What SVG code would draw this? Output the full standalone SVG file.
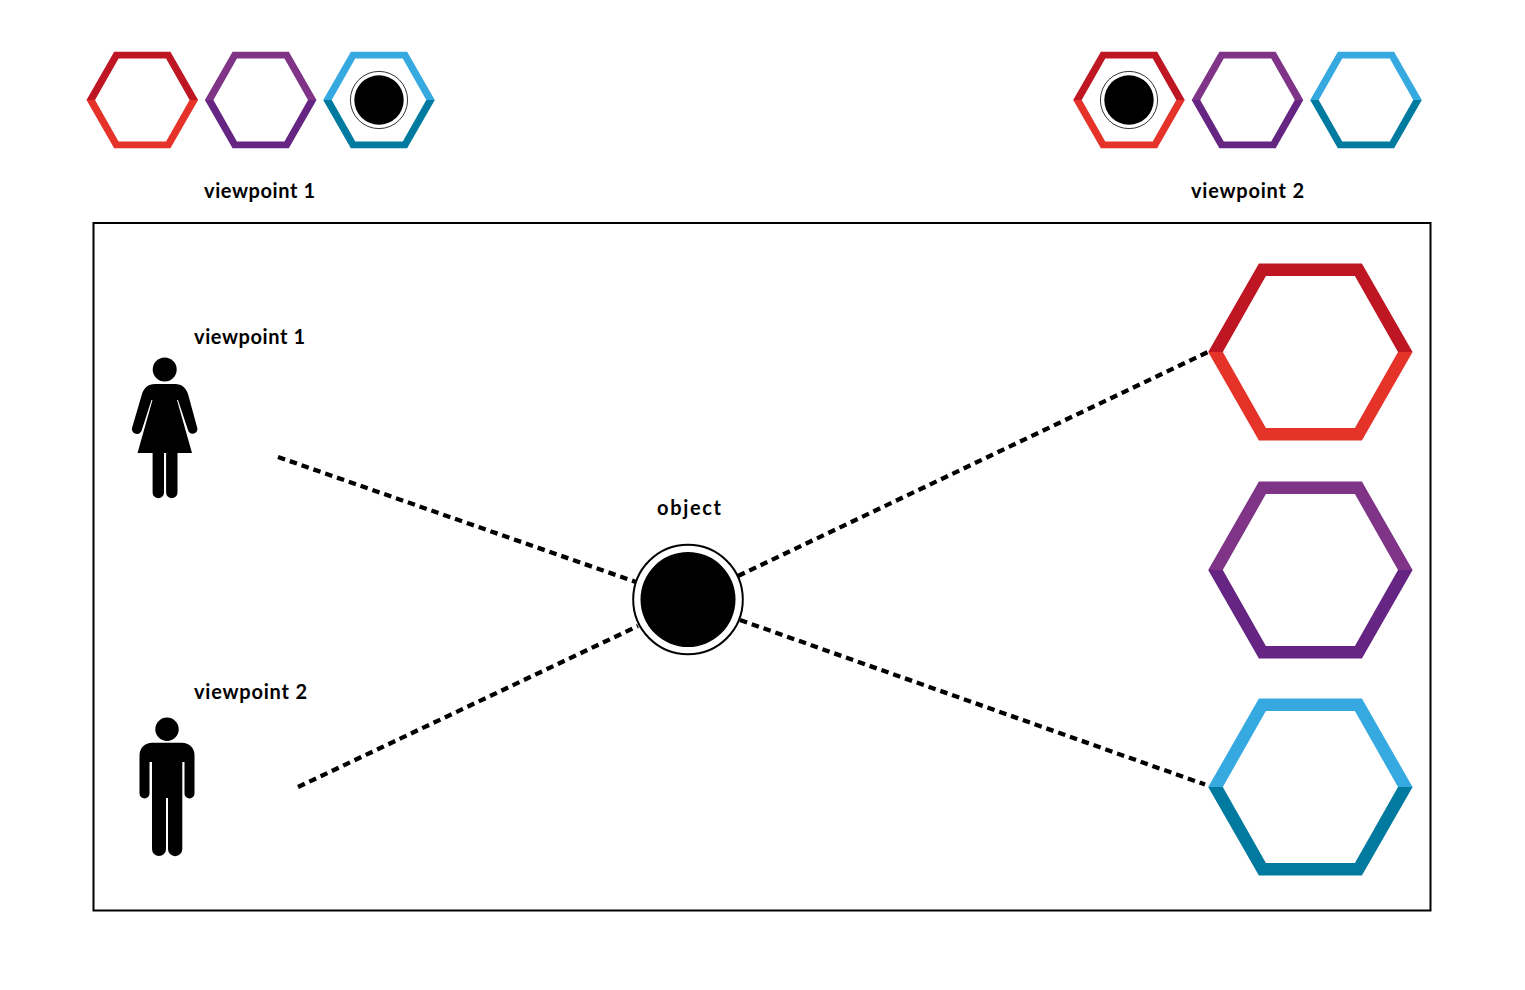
<svg xmlns="http://www.w3.org/2000/svg" width="1525" height="990" viewBox="0 0 1525 990">
<style>
text{font-family:"Lato","Liberation Sans",sans-serif;font-weight:700;font-size:20px;fill:#000}
.dash{fill:none;stroke:#000;stroke-width:4.3;stroke-dasharray:7.5 5}
.red1{fill:#BE1622}.red2{fill:#E6332A}
.pur1{fill:#7F3488}.pur2{fill:#662483}
.blu1{fill:#36A9E1}.blu2{fill:#007A9E}
</style>
<defs>
<path id="hexTop" d="M-102.2 0L-51.5-88.5H51.5L102.2 0H87.6L44.5-76H-44.5L-87.6 0Z"/>
<path id="hexBot" d="M-102.2 0L-51.5 88.5H51.5L102.2 0H87.6L44.5 76H-44.5L-87.6 0Z"/>
<path id="smallTop" d="M-102.2 0L-51.5-88.5H51.5L102.2 0H86.6L43.5-76H-43.5L-86.6 0Z"/>
<path id="smallBot" d="M-102.2 0L-51.5 88.5H51.5L102.2 0H86.6L43.5 76H-43.5L-86.6 0Z"/>
<g id="dot"><circle r="28.6" fill="#fff" stroke="#000" stroke-width=".8"/><circle r="24.7" fill="#000"/></g>
</defs>
<rect id="frame" x="93.5" y="223" width="1337" height="687.5" fill="#fff" stroke="#000" stroke-width="2"/>
<g id="connectors">
<path class="dash" d="M278 457L636 582"/>
<path class="dash" d="M298 787L638 626"/>
<path class="dash" d="M738 576L1208 352"/>
<path class="dash" d="M740 620L1205 784.5"/>
</g>
<g id="v1-red" transform="translate(142.3 100) scale(.546)"><use href="#smallTop" class="red1"/><use href="#smallBot" class="red2"/></g>
<g id="v1-purple" transform="translate(260.7 100) scale(.546)"><use href="#smallTop" class="pur1"/><use href="#smallBot" class="pur2"/></g>
<g id="v1-blue" transform="translate(379 100) scale(.546)"><use href="#smallTop" class="blu1"/><use href="#smallBot" class="blu2"/></g>
<use id="v1-dot" href="#dot" x="379" y="100"/>
<g id="v2-red" transform="translate(1129 100) scale(.546)"><use href="#smallTop" class="red1"/><use href="#smallBot" class="red2"/></g>
<g id="v2-purple" transform="translate(1247.5 100) scale(.546)"><use href="#smallTop" class="pur1"/><use href="#smallBot" class="pur2"/></g>
<g id="v2-blue" transform="translate(1366 100) scale(.546)"><use href="#smallTop" class="blu1"/><use href="#smallBot" class="blu2"/></g>
<use id="v2-dot" href="#dot" x="1129" y="100"/>
<text id="label-top-1" x="204" y="198" textLength="111">viewpoint 1</text>
<text id="label-top-2" x="1191" y="198" textLength="113">viewpoint 2</text>
<g id="big-red" transform="translate(1310.4 352)"><use href="#hexTop" class="red1"/><use href="#hexBot" class="red2"/></g>
<g id="big-purple" transform="translate(1310.4 570)"><use href="#hexTop" class="pur1"/><use href="#hexBot" class="pur2"/></g>
<g id="big-blue" transform="translate(1310.4 787)"><use href="#hexTop" class="blu1"/><use href="#hexBot" class="blu2"/></g>
<g id="object">
<circle cx="688" cy="599.5" r="54.8" fill="#fff" stroke="#000" stroke-width="2"/>
<circle cx="688" cy="599.5" r="47.5" fill="#000"/>
<text x="657" y="515" textLength="64">object</text>
</g>
<g id="viewer-1">
<circle cx="164.7" cy="369.5" r="12"/>
<path d="M155 384H175C182 384 186 388 188 394L197 427A4.6 4.6 0 0 1 188.3 431L178 400H177L192 453H177.5V492.5A5.7 5.7 0 0 1 166.1 492.5V453H164V492.5A5.7 5.7 0 0 1 152.6 492.5V453H137.5L152.5 400H151.5L141.5 431A4.6 4.6 0 0 1 132.3 427L142 394C144 388 148 384 155 384Z"/>
<text x="194" y="344" textLength="111">viewpoint 1</text>
</g>
<g id="viewer-2">
<circle cx="167" cy="729.2" r="11.7"/>
<path d="M152 742.7H182C189 742.7 194.5 748 194.5 755V793.5A5 5 0 0 1 184.5 793.5V762H182.3V849A7 7 0 0 1 168 849V798H166V849A7 7 0 0 1 152 849V762H149.5V793.5A5 5 0 0 1 139.5 793.5V755C139.5 748 145 742.7 152 742.7Z"/>
<text x="194" y="699" textLength="113">viewpoint 2</text>
</g>
</svg>
